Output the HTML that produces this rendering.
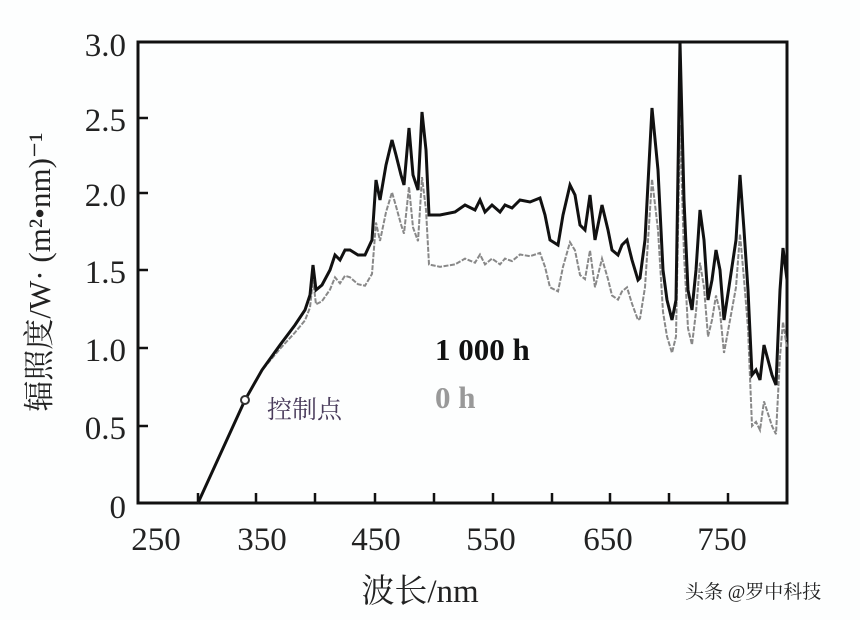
<!DOCTYPE html>
<html><head><meta charset="utf-8"><style>
html,body{margin:0;padding:0;background:#fdfefe;width:860px;height:620px;overflow:hidden}
svg text{font-family:"Liberation Serif","Noto Serif CJK SC",serif}
</style></head><body>
<svg id="s" width="860" height="620" xmlns="http://www.w3.org/2000/svg">
<rect x="138" y="42" width="649" height="461" fill="none" stroke="#111" stroke-width="3"/>
<g stroke="#111" stroke-width="2.5">
<line x1="198" y1="503" x2="198" y2="493"/><line x1="256" y1="503" x2="256" y2="493"/>
<line x1="315" y1="503" x2="315" y2="493"/><line x1="375" y1="503" x2="375" y2="493"/>
<line x1="434" y1="503" x2="434" y2="493"/><line x1="493" y1="503" x2="493" y2="493"/>
<line x1="552" y1="503" x2="552" y2="493"/><line x1="610" y1="503" x2="610" y2="493"/>
<line x1="669" y1="503" x2="669" y2="493"/><line x1="728" y1="503" x2="728" y2="493"/>
<line x1="138" y1="118" x2="148" y2="118"/><line x1="138" y1="193" x2="148" y2="193"/>
<line x1="138" y1="270" x2="148" y2="270"/><line x1="138" y1="348" x2="148" y2="348"/>
<line x1="138" y1="426" x2="148" y2="426"/>
</g>
<g font-size="33" fill="#222" text-anchor="end">
<text x="126" y="56">3.0</text><text x="126" y="131">2.5</text><text x="126" y="206">2.0</text>
<text x="126" y="283">1.5</text><text x="126" y="361">1.0</text><text x="126" y="439">0.5</text>
<text x="126" y="518">0</text>
</g>
<g font-size="33" fill="#222" text-anchor="middle">
<text x="156" y="550">250</text><text x="262" y="550">350</text><text x="376" y="550">450</text>
<text x="491" y="550">550</text><text x="608" y="550">650</text><text x="722" y="550">750</text>
</g>
<text x="420" y="602" font-size="33" fill="#222" text-anchor="middle">波长/nm</text>
<text transform="translate(50,272) rotate(-90)" font-size="31" fill="#222" text-anchor="middle">辐照度/W· (m²•nm)⁻¹</text>
<polyline id="g" fill="none" stroke="#888" stroke-width="2" stroke-dasharray="5,1.5"/>
<polyline id="b" fill="none" stroke="#111" stroke-width="3"/>
<circle cx="245" cy="400" r="4" fill="#fff" stroke="#333" stroke-width="2"/>
<text x="267" y="418" font-size="25" fill="#4a3c5c" font-family="Liberation Sans,Noto Sans CJK SC,sans-serif">控制点</text>
<text x="435" y="360" font-size="31" font-weight="bold" fill="#111">1 000 h</text>
<text x="435" y="408" font-size="31" font-weight="bold" fill="#999">0 h</text>
<text x="685" y="598" font-size="19" fill="#222" font-family="Liberation Sans,Noto Sans CJK SC,sans-serif">头条 @罗中科技</text>
</svg>
<script>
var P=[[198,503],[245,400],[262,370],[280,345],[295,325],[305,310],[310,295],[313,265],[316,290],[322,285],[330,270],[335,255],[340,260],[345,250],[350,250],[358,255],[365,255],[372,240],[376,180],[380,200],[386,165],[392,140],[396,155],[401,175],[404,185],[409,128],[413,175],[418,190],[422,112],[426,150],[429,215],[440,215],[455,212],[465,205],[475,210],[480,200],[485,212],[492,205],[500,212],[505,205],[512,208],[520,200],[530,202],[540,198],[545,215],[550,240],[558,245],[563,215],[570,185],[575,195],[580,225],[585,230],[590,195],[595,240],[602,205],[608,230],[612,250],[618,255],[622,245],[627,240],[632,260],[638,280],[640,278],[645,240],[652,108],[658,170],[663,270],[667,300],[672,320],[676,300],[680,42],[684,200],[688,290],[692,310],[696,270],[700,210],[704,240],[708,300],[712,280],[716,250],[720,270],[724,320],[730,280],[736,240],[740,175],[744,230],[748,290],[752,375],[756,370],[760,380],[764,345],[768,360],[772,375],[776,385],[780,290],[783,248],[787,280]];
document.getElementById('b').setAttribute('points',P.map(p=>p.join(',')).join(' '));
var G=P.map(function(p){var f=p[0]<260?1:(p[0]<360?1-(p[0]-260)/100*0.12:(p[0]<440?0.88-(p[0]-360)/80*0.06:0.82));var y=503-(503-p[1])*f;if(p[0]>=750)y+=28;return p[0]+','+y.toFixed(1);});
document.getElementById('g').setAttribute('points',G.join(' '));
</script>
</body></html>
